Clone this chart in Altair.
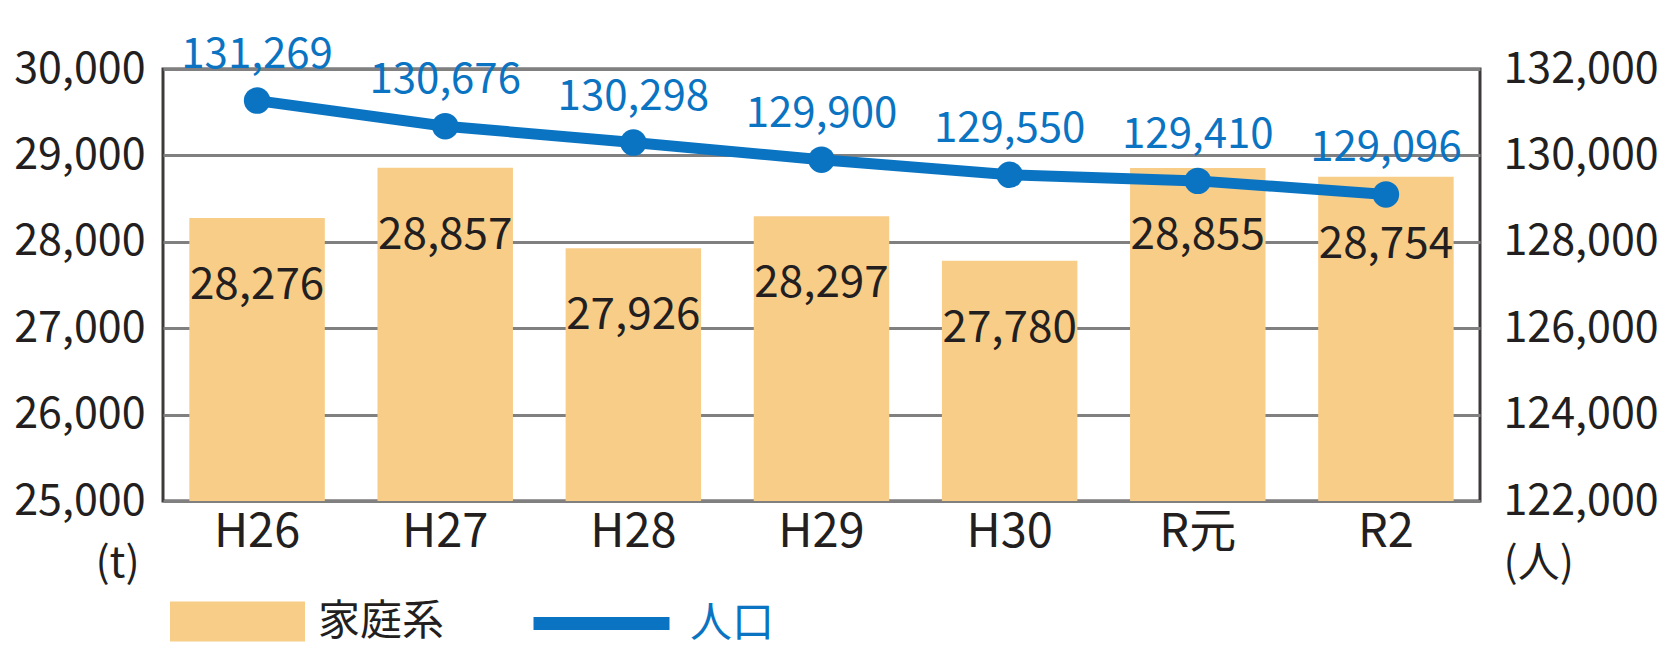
import altair as alt
import pandas as pd

years = ["H26", "H27", "H28", "H29", "H30", "R元", "R2"]
household = [28276, 28857, 27926, 28297, 27780, 28855, 28754]
population = [131269, 130676, 130298, 129900, 129550, 129410, 129096]
left_ticks = [25000, 26000, 27000, 28000, 29000, 30000]
right_ticks = [122000, 124000, 126000, 128000, 130000, 132000]
bar_name = "家庭系"
line_name = "人口"

df = pd.DataFrame({
    "year": years,
    "household": household,
    "population": population,
    "s1": bar_name,
    "s2": line_name,
})

FONT = "Noto Sans CJK JP"
TEXT = "#231f20"
BAR = "#f8cd88"
BLUE = "#0a74c2"
LABEL_EXPR = "format(datum.value, ',')"

x = alt.X("year:N", sort=years,
          scale=alt.Scale(paddingInner=0.28, paddingOuter=0.14),
          axis=alt.Axis(title=None, labelAngle=0, labelFontSize=47, labelColor=TEXT,
                        labelFont=FONT, ticks=False, domain=False, labelPadding=8))

y_left = alt.Y("household:Q",
               scale=alt.Scale(domain=[25000, 30000], nice=False, zero=False),
               axis=alt.Axis(values=left_ticks, labelExpr=LABEL_EXPR, title="(t)", titleAngle=0,
                             titleX=-46, titleY=494, titleAlign="center", titleBaseline="middle",
                             titleFontSize=42, titleFontWeight="normal", titleColor=TEXT, titleFont=FONT,
                             labelFontSize=43, labelColor=TEXT, labelFont=FONT, labelPadding=18,
                             ticks=False, domain=False, grid=True, gridColor="#808080", gridWidth=3))

y_right = alt.Y("population:Q",
                scale=alt.Scale(domain=[122000, 132000], nice=False, zero=False),
                axis=alt.Axis(orient="right", values=right_ticks, labelExpr=LABEL_EXPR, title="(人)",
                              titleAngle=0, titleX=23, titleY=494, titleAlign="left", titleBaseline="middle",
                              titleFontSize=42, titleFontWeight="normal", titleColor=TEXT, titleFont=FONT,
                              labelFontSize=43, labelColor=TEXT, labelFont=FONT, labelPadding=23,
                              ticks=False, domain=False, grid=False))

base = alt.Chart(df)

bars = base.mark_bar().encode(
    x=x,
    y=y_left,
    y2=alt.datum(25000),
    fill=alt.Fill("s1:N", scale=alt.Scale(domain=[bar_name], range=[BAR]),
                  legend=alt.Legend(title=None, orient="none", legendX=7, legendY=485,
                                    symbolType="M-1,-0.296H1V0.296H-1Z", symbolSize=18225,
                                    symbolStrokeWidth=0, symbolOpacity=1,
                                    labelFontSize=42, labelColor=TEXT, labelFont=FONT,
                                    labelOffset=13, labelLimit=400, padding=0)),
)

bar_labels = base.mark_text(dy=68, fontSize=44, color=TEXT, font=FONT).encode(
    x=x, y=y_left, text=alt.Text("household:Q", format=","))

left = alt.layer(bars, bar_labels)

line = base.mark_line(strokeWidth=11).encode(
    x=x,
    y=y_right,
    stroke=alt.Stroke("s2:N", scale=alt.Scale(domain=[line_name], range=[BLUE]),
                      legend=alt.Legend(title=None, orient="none", legendX=364, legendY=480,
                                        symbolType="stroke", symbolSize=136 * 136,
                                        symbolStrokeWidth=13,
                                        labelFontSize=42, labelColor=BLUE, labelFont=FONT,
                                        labelOffset=14, labelLimit=400, padding=0)),
)

points = base.mark_circle(size=700, color=BLUE, opacity=1).encode(x=x, y=y_right)

pop_labels = base.mark_text(dy=-46, fontSize=42, color=BLUE, font=FONT).encode(
    x=x, y=y_right, text=alt.Text("population:Q", format=","))

right = alt.layer(line, points, pop_labels)

chart = alt.layer(left, right).resolve_scale(
    y="independent", fill="independent", stroke="independent"
).properties(
    width=1317, height=432,
    autosize=alt.AutoSizeParams(type="none"),
    padding={"left": 155, "top": 61, "right": 180, "bottom": 144},
    background="white",
).configure_view(stroke="#3f3a3a", strokeWidth=3)

chart.save("out.html", embed_options={"renderer": "svg", "actions": False})
